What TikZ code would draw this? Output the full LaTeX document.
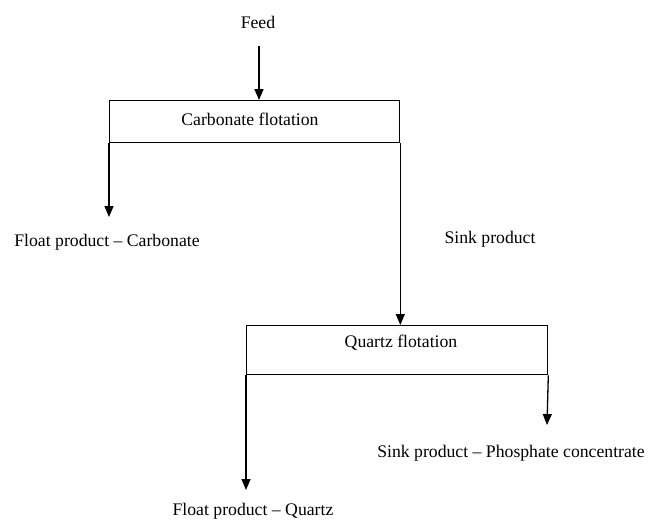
\documentclass[tikz,border=0pt]{standalone}
\usepackage{fontspec}
\setmainfont{Liberation Serif}
\usetikzlibrary{arrows.meta}
\begin{document}
\begin{tikzpicture}[x=1pt,y=-1pt,
  every node/.style={font=\fontsize{17.7}{20}\selectfont, inner sep=0pt},
  boxstyle/.style={draw, line width=1.3pt, anchor=north west},
  lin/.style={line width=1.3pt},
  arr/.style={line width=1.3pt, -{Triangle[width=9pt,length=11pt]}}]
\useasboundingbox (0,0) rectangle (657,522);
% texts
\node (feed) at (258,22) {Feed};
\node (fcarb) at (107,242) {Float product -- Carbonate};
\node (sink) at (490,239) {Sink product};
\node (sinkp) at (511,453) {Sink product -- Phosphate concentrate};
\node (fquartz) at (253,511) {Float product -- Quartz};
% boxes
\node[boxstyle, minimum width=290pt, minimum height=42pt] (cf) at (109,100) {};
\node at (250,119) {Carbonate flotation};
\node[boxstyle, minimum width=301pt, minimum height=49pt] (qf) at (246,325) {};
\node at (401,343) {Quartz flotation};
% coordinates
\coordinate (feedtop) at (259,46);
\coordinate (cfl) at (109,217);
\coordinate (qfl) at (246,490);
\coordinate (qfr) at (547,425);
% connectors
\draw[arr] (feedtop) -- (feedtop |- cf.north);
\draw[arr] (cf.south west) -- (cfl);
\draw[arr] (cf.south east) -- (cf.south east |- qf.north);
\draw[arr] (qf.south west) -- (qfl);
\draw[arr] (qf.south east) -- (qfr);
\end{tikzpicture}
\end{document}
